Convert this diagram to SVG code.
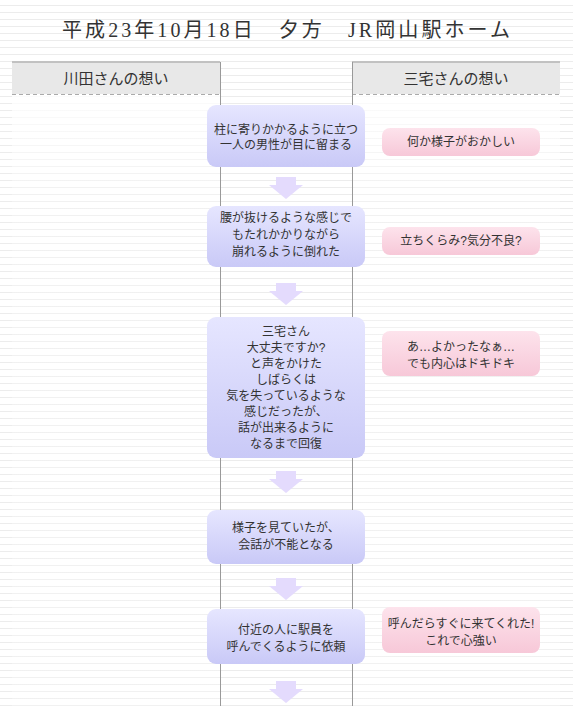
<svg xmlns="http://www.w3.org/2000/svg" width="573" height="706" viewBox="0 0 573 706">
<defs>
<pattern id="lines" x="0" y="0" width="573" height="7" patternUnits="userSpaceOnUse">
<rect x="0" y="0" width="573" height="7" fill="#ffffff"/>
<rect x="0" y="5" width="573" height="1" fill="#ececec"/>
</pattern>
<linearGradient id="blue" x1="0" y1="0" x2="0" y2="1">
<stop offset="0" stop-color="#e6e6ff"/>
<stop offset="1" stop-color="#c9c9f7"/>
</linearGradient>
<linearGradient id="pink" x1="0" y1="0" x2="0" y2="1">
<stop offset="0" stop-color="#fde3ec"/>
<stop offset="1" stop-color="#f7c8d8"/>
</linearGradient>
<linearGradient id="fade" x1="0" y1="94" x2="0" y2="200" gradientUnits="userSpaceOnUse">
<stop offset="0" stop-color="#ffffff" stop-opacity="0.8"/>
<stop offset="1" stop-color="#ffffff" stop-opacity="0.25"/>
</linearGradient>
<linearGradient id="edge" x1="0" y1="0" x2="0" y2="1">
<stop offset="0" stop-color="#999999"/>
<stop offset="1" stop-color="#dddddd"/>
</linearGradient>
<path id="arrow" d="M-10,0 H10 V8 H17 L0,22 L-17,8 H-10 Z"/>
</defs>
<style>
text{font-family:"Liberation Sans","Noto Sans CJK JP",sans-serif;fill:#333333;text-anchor:middle;dominant-baseline:central}
.title{font-family:"Liberation Serif","Noto Sans CJK JP",serif;font-size:20px;fill:#333333}
.head{font-size:15px}
.t{font-size:12px}
.hdr{fill:#e8e8e8}
.box{fill:url(#blue)}
.note{fill:url(#pink)}
.arr{fill:#e4dbfd}
</style>
<rect x="0" y="0" width="573" height="706" fill="url(#lines)"/>
<text class="title" x="286" y="30" textLength="448" lengthAdjust="spacing">平成23年10月18日　夕方　JR岡山駅ホーム</text>

<g id="panel-left">
<rect x="12" y="94" width="208" height="612" fill="url(#fade)"/>
<rect class="hdr" x="12" y="62" width="208" height="32"/>
<path d="M12,62 H220" stroke="#999" fill="none"/>
<path d="M12.5,62 V120" stroke="url(#edge)" fill="none"/>
<path d="M12,94.5 H220" stroke="#aaa" stroke-dasharray="4,3" fill="none"/>
<text class="head" x="116" y="78">川田さんの想い</text>
</g>
<g id="panel-right">
<rect x="352" y="94" width="208" height="612" fill="url(#fade)"/>
<rect class="hdr" x="352" y="62" width="208" height="32"/>
<path d="M352,62 H560" stroke="#999" fill="none"/>
<path d="M559.5,62 V200" stroke="url(#edge)" fill="none"/>
<path d="M352,94.5 H560" stroke="#aaa" stroke-dasharray="4,3" fill="none"/>
<text class="head" x="456" y="78">三宅さんの想い</text>
</g>
<g id="column-lines" fill="none">
<path d="M220.5,62 V706" stroke="#999"/>
<path d="M352.5,62 V706" stroke="#999"/>
</g>

<g id="connectors">
<use href="#arrow" class="arr" x="286" y="177"/>
<use href="#arrow" class="arr" x="286" y="283"/>
<use href="#arrow" class="arr" x="286" y="471"/>
<use href="#arrow" class="arr" x="286" y="578"/>
<use href="#arrow" class="arr" x="286" y="681"/>
</g>

<g id="step1">
<rect class="box" x="207" y="105" width="158" height="62" rx="9"/>
<text class="t" x="286" y="130">柱に寄りかかるように立つ</text>
<text class="t" x="286" y="145">一人の男性が目に留まる</text>
</g>
<g id="step2">
<rect class="box" x="207" y="206" width="158" height="61" rx="9"/>
<text class="t" x="286" y="218">腰が抜けるような感じで</text>
<text class="t" x="286" y="235">もたれかかりながら</text>
<text class="t" x="286" y="252">崩れるように倒れた</text>
</g>
<g id="step3">
<rect class="box" x="207" y="317" width="158" height="141" rx="9"/>
<text class="t" x="286" y="332">三宅さん</text>
<text class="t" x="286" y="348">大丈夫ですか?</text>
<text class="t" x="286" y="364">と声をかけた</text>
<text class="t" x="286" y="380">しばらくは</text>
<text class="t" x="286" y="396">気を失っているような</text>
<text class="t" x="286" y="412">感じだったが、</text>
<text class="t" x="286" y="428">話が出来るように</text>
<text class="t" x="286" y="444">なるまで回復</text>
</g>
<g id="step4">
<rect class="box" x="207" y="510" width="158" height="54" rx="9"/>
<text class="t" x="286" y="528">様子を見ていたが、</text>
<text class="t" x="286" y="545">会話が不能となる</text>
</g>
<g id="step5">
<rect class="box" x="207" y="609" width="158" height="55" rx="9"/>
<text class="t" x="286" y="630">付近の人に駅員を</text>
<text class="t" x="286" y="647">呼んでくるように依頼</text>
</g>

<g id="note1">
<rect class="note" x="382" y="128" width="158" height="28" rx="8"/>
<text class="t" x="461" y="142">何か様子がおかしい</text>
</g>
<g id="note2">
<rect class="note" x="382" y="227" width="158" height="28" rx="8"/>
<text class="t" x="461" y="241">立ちくらみ?気分不良?</text>
</g>
<g id="note3">
<rect class="note" x="382" y="331" width="158" height="45" rx="8"/>
<text class="t" x="461" y="347">あ…よかったなぁ…</text>
<text class="t" x="461" y="364">でも内心はドキドキ</text>
</g>
<g id="note4">
<rect class="note" x="382" y="607" width="158" height="46" rx="8"/>
<text class="t" x="461" y="624">呼んだらすぐに来てくれた!</text>
<text class="t" x="461" y="641">これで心強い</text>
</g>
</svg>
